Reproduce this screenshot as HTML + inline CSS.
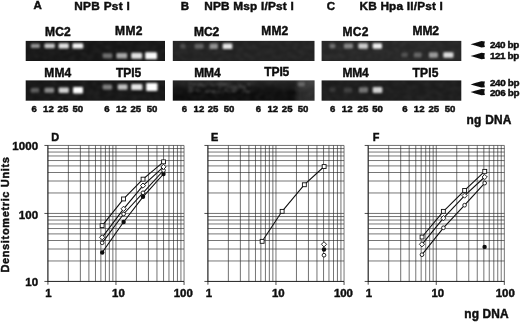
<!DOCTYPE html>
<html><head><meta charset="utf-8"><title>Figure</title>
<style>html,body{margin:0;padding:0;background:#fff;}body{width:520px;height:322px;overflow:hidden;}svg{display:block;}text{font-family:"Liberation Sans",sans-serif;font-weight:bold;fill:#0d0d0d;stroke:#0d0d0d;stroke-width:0.45px;}</style>
</head><body>
<svg width="520" height="322" viewBox="0 0 520 322">
<defs>
<filter id="b1" x="-50%" y="-100%" width="200%" height="300%"><feGaussianBlur stdDeviation="0.9 0.8"/></filter>
<filter id="b2" x="-50%" y="-100%" width="200%" height="300%"><feGaussianBlur stdDeviation="2.5 1.5"/></filter>
<filter id="soft2" x="-2%" y="-2%" width="104%" height="104%"><feGaussianBlur stdDeviation="0.25"/></filter>
<filter id="soft" x="-2%" y="-2%" width="104%" height="104%"><feGaussianBlur stdDeviation="0.4"/></filter>
<filter id="noise" x="-5%" y="-20%" width="110%" height="140%"><feTurbulence type="fractalNoise" baseFrequency="0.16 0.22" numOctaves="2" seed="7"/><feColorMatrix type="matrix" values="0 0 0 0 1 0 0 0 0 1 0 0 0 0 1 2.2 0 0 0 -0.8"/><feComposite in2="SourceGraphic" operator="in"/><feGaussianBlur stdDeviation="1.1"/></filter>
<linearGradient id="gtop" x1="0" y1="0" x2="0" y2="1"><stop offset="0" stop-color="#fff" stop-opacity="0.10"/><stop offset="0.3" stop-color="#fff" stop-opacity="0.05"/><stop offset="0.6" stop-color="#fff" stop-opacity="0"/></linearGradient>
<linearGradient id="gright" x1="0" y1="0" x2="1" y2="0"><stop offset="0" stop-color="#fff" stop-opacity="0"/><stop offset="0.3" stop-color="#fff" stop-opacity="0.12"/><stop offset="1" stop-color="#fff" stop-opacity="0.13"/></linearGradient>
</defs>
<rect x="0" y="0" width="520" height="322" fill="#fff"/>
<g filter="url(#soft)">
<text x="33.6" y="8.7" font-size="11.5">A</text>
<text x="74.2" y="9.6" font-size="11.8" textLength="55.6" lengthAdjust="spacing">NPB Pst I</text>
<text x="180.8" y="10.0" font-size="11.5">B</text>
<text x="204.2" y="9.6" font-size="11.8" textLength="89.5" lengthAdjust="spacing">NPB Msp I/Pst I</text>
<text x="326.8" y="10.0" font-size="11.5">C</text>
<text x="359.5" y="9.6" font-size="11.8" textLength="83.3" lengthAdjust="spacing">KB Hpa II/Pst I</text>
</g>
<g filter="url(#soft)">
<rect x="25.7" y="40.9" width="139.3" height="20.1" fill="#191919"/>
<rect x="25.7" y="80.4" width="139.3" height="20.3" fill="#181818"/>
<rect x="172.8" y="40.9" width="141.7" height="20.1" fill="#202020"/>
<rect x="172.8" y="80.4" width="141.7" height="20.3" fill="#0c0c0c"/>
<rect x="321.6" y="40.9" width="139.7" height="20.1" fill="#252525"/>
<rect x="321.6" y="80.4" width="139.7" height="20.3" fill="#1f1f1f"/>
</g>
<rect x="172.8" y="80.4" width="141.7" height="20.3" fill="url(#gtop)"/>
<rect x="294" y="80.4" width="20.5" height="20.3" fill="url(#gright)"/>
<rect x="188" y="83" width="62" height="10" fill="#fff" opacity="0.2" filter="url(#noise)"/>
<rect x="25.7" y="40.9" width="139.3" height="20.1" fill="#fff" opacity="0.05" filter="url(#noise)"/>
<rect x="25.7" y="80.4" width="139.3" height="20.3" fill="#fff" opacity="0.05" filter="url(#noise)"/>
<rect x="172.8" y="40.9" width="141.7" height="20.1" fill="#fff" opacity="0.05" filter="url(#noise)"/>
<rect x="172.8" y="80.4" width="141.7" height="20.3" fill="#fff" opacity="0.05" filter="url(#noise)"/>
<rect x="321.6" y="40.9" width="139.7" height="20.1" fill="#fff" opacity="0.05" filter="url(#noise)"/>
<rect x="321.6" y="80.4" width="139.7" height="20.3" fill="#fff" opacity="0.05" filter="url(#noise)"/>
<rect x="30.9" y="43.7" width="8.9" height="4.4" rx="1.2" fill="#fff" opacity="0.53" filter="url(#b1)"/>
<rect x="44.5" y="43.4" width="10.3" height="4.9" rx="1.2" fill="#fff" opacity="0.76" filter="url(#b1)"/>
<rect x="58.6" y="43.3" width="10.2" height="5.1" rx="1.2" fill="#fff" opacity="0.87" filter="url(#b1)"/>
<rect x="72.5" y="43.2" width="10.7" height="5.4" rx="1.2" fill="#fff" opacity="0.96" filter="url(#b1)"/>
<rect x="102.7" y="53.3" width="9.6" height="4.9" rx="1.2" fill="#fff" opacity="0.36" filter="url(#b1)"/>
<rect x="116.4" y="53.1" width="10.8" height="5.4" rx="1.2" fill="#fff" opacity="0.62" filter="url(#b1)"/>
<rect x="131.2" y="52.8" width="11.0" height="5.9" rx="1.2" fill="#fff" opacity="0.87" filter="url(#b1)"/>
<rect x="145.2" y="52.3" width="11.8" height="7.0" rx="1.2" fill="#fff" opacity="0.98" filter="url(#b1)"/>
<rect x="30.7" y="87.9" width="8.5" height="4.6" rx="1.2" fill="#fff" opacity="0.29" filter="url(#b1)"/>
<rect x="44.5" y="87.7" width="9.6" height="5.1" rx="1.2" fill="#fff" opacity="0.49" filter="url(#b1)"/>
<rect x="58.7" y="87.4" width="10.1" height="5.6" rx="1.2" fill="#fff" opacity="0.80" filter="url(#b1)"/>
<rect x="73.0" y="87.0" width="10.0" height="6.4" rx="1.2" fill="#fff" opacity="1.00" filter="url(#b1)"/>
<rect x="102.7" y="84.5" width="9.3" height="4.9" rx="1.2" fill="#fff" opacity="0.44" filter="url(#b1)"/>
<rect x="117.7" y="84.3" width="9.8" height="5.4" rx="1.2" fill="#fff" opacity="0.73" filter="url(#b1)"/>
<rect x="131.2" y="83.9" width="11.2" height="6.2" rx="1.2" fill="#fff" opacity="0.89" filter="url(#b1)"/>
<rect x="146.2" y="83.0" width="11.3" height="7.9" rx="1.2" fill="#fff" opacity="1.00" filter="url(#b1)"/>
<rect x="180.2" y="44.0" width="5.2" height="4.4" rx="1.2" fill="#fff" opacity="0.18" filter="url(#b1)"/>
<rect x="194.6" y="43.8" width="8.9" height="4.9" rx="1.2" fill="#fff" opacity="0.29" filter="url(#b1)"/>
<rect x="209.6" y="43.5" width="8.3" height="5.4" rx="1.2" fill="#fff" opacity="0.49" filter="url(#b1)"/>
<rect x="222.7" y="43.4" width="9.6" height="5.7" rx="1.2" fill="#fff" opacity="0.89" filter="url(#b1)"/>
<rect x="297.7" y="82.3" width="7.1" height="3.9" rx="1.2" fill="#fff" opacity="0.24" filter="url(#b1)"/>
<rect x="329.6" y="43.8" width="5.7" height="4.4" rx="1.2" fill="#fff" opacity="0.33" filter="url(#b1)"/>
<rect x="343.9" y="43.5" width="9.0" height="4.9" rx="1.2" fill="#fff" opacity="0.44" filter="url(#b1)"/>
<rect x="358.3" y="43.3" width="9.6" height="5.4" rx="1.2" fill="#fff" opacity="0.76" filter="url(#b1)"/>
<rect x="372.7" y="43.3" width="9.3" height="5.4" rx="1.2" fill="#fff" opacity="0.93" filter="url(#b1)"/>
<rect x="401.4" y="52.8" width="6.3" height="4.4" rx="1.2" fill="#fff" opacity="0.20" filter="url(#b1)"/>
<rect x="413.9" y="52.5" width="7.7" height="4.9" rx="1.2" fill="#fff" opacity="0.29" filter="url(#b1)"/>
<rect x="428.9" y="52.3" width="9.0" height="5.4" rx="1.2" fill="#fff" opacity="0.53" filter="url(#b1)"/>
<rect x="443.3" y="52.2" width="10.2" height="5.6" rx="1.2" fill="#fff" opacity="0.84" filter="url(#b1)"/>
<rect x="329.6" y="87.8" width="5.7" height="4.4" rx="1.2" fill="#fff" opacity="0.10" filter="url(#b1)"/>
<rect x="343.9" y="87.8" width="8.3" height="4.4" rx="1.2" fill="#fff" opacity="0.14" filter="url(#b1)"/>
<rect x="358.9" y="87.3" width="9.0" height="5.4" rx="1.2" fill="#fff" opacity="0.38" filter="url(#b1)"/>
<rect x="372.7" y="87.0" width="9.6" height="5.9" rx="1.2" fill="#fff" opacity="0.80" filter="url(#b1)"/>
<g filter="url(#soft)">
<text x="45.1" y="36.0" font-size="12" textLength="25.5" lengthAdjust="spacing">MC2</text>
<text x="115.1" y="34.7" font-size="12" textLength="27.4" lengthAdjust="spacing">MM2</text>
<text x="44.2" y="76.6" font-size="12" textLength="27.1" lengthAdjust="spacing">MM4</text>
<text x="115.9" y="76.6" font-size="12" textLength="25.3" lengthAdjust="spacing">TPI5</text>
<text x="194.1" y="36.0" font-size="12" textLength="25.0" lengthAdjust="spacing">MC2</text>
<text x="261.2" y="34.9" font-size="12" textLength="27.1" lengthAdjust="spacing">MM2</text>
<text x="194.2" y="76.7" font-size="12" textLength="26.5" lengthAdjust="spacing">MM4</text>
<text x="264.3" y="76.2" font-size="12" textLength="25.0" lengthAdjust="spacing">TPI5</text>
<text x="342.5" y="36.0" font-size="12" textLength="25.9" lengthAdjust="spacing">MC2</text>
<text x="412.5" y="34.7" font-size="12" textLength="26.5" lengthAdjust="spacing">MM2</text>
<text x="342.5" y="77.0" font-size="12" textLength="26.2" lengthAdjust="spacing">MM4</text>
<text x="412.6" y="76.6" font-size="12" textLength="25.8" lengthAdjust="spacing">TPI5</text>
<text x="34.2" y="112.2" font-size="9.6" text-anchor="middle">6</text>
<text x="48.4" y="112.2" font-size="9.6" text-anchor="middle">12</text>
<text x="62.9" y="112.2" font-size="9.6" text-anchor="middle">25</text>
<text x="77.8" y="112.2" font-size="9.6" text-anchor="middle">50</text>
<text x="106.9" y="112.2" font-size="9.6" text-anchor="middle">6</text>
<text x="121.3" y="112.2" font-size="9.6" text-anchor="middle">12</text>
<text x="135.8" y="112.2" font-size="9.6" text-anchor="middle">25</text>
<text x="152.0" y="112.2" font-size="9.6" text-anchor="middle">50</text>
<text x="184.4" y="112.2" font-size="9.6" text-anchor="middle">6</text>
<text x="198.9" y="112.2" font-size="9.6" text-anchor="middle">12</text>
<text x="213.1" y="112.2" font-size="9.6" text-anchor="middle">25</text>
<text x="229.0" y="112.2" font-size="9.6" text-anchor="middle">50</text>
<text x="258.4" y="112.2" font-size="9.6" text-anchor="middle">6</text>
<text x="272.8" y="112.2" font-size="9.6" text-anchor="middle">12</text>
<text x="287.2" y="112.2" font-size="9.6" text-anchor="middle">25</text>
<text x="303.1" y="112.2" font-size="9.6" text-anchor="middle">50</text>
<text x="332.7" y="112.2" font-size="9.6" text-anchor="middle">6</text>
<text x="347.2" y="112.2" font-size="9.6" text-anchor="middle">12</text>
<text x="362.9" y="112.2" font-size="9.6" text-anchor="middle">25</text>
<text x="377.5" y="112.2" font-size="9.6" text-anchor="middle">50</text>
<text x="404.8" y="112.2" font-size="9.6" text-anchor="middle">6</text>
<text x="419.2" y="112.2" font-size="9.6" text-anchor="middle">12</text>
<text x="433.8" y="112.2" font-size="9.6" text-anchor="middle">25</text>
<text x="450.0" y="112.2" font-size="9.6" text-anchor="middle">50</text>
<polygon points="470.6,44.3 475,43.0 481.5,41.1 484.9,41.5 484.3,44.3 484.9,47.1 481.5,47.5 475,45.6" fill="#0d0d0d"/>
<polygon points="470.6,56 475,54.7 481.5,52.8 484.9,53.2 484.3,56 484.9,58.8 481.5,59.2 475,57.3" fill="#0d0d0d"/>
<polygon points="470.6,84.4 475,83.1 481.5,81.2 484.9,81.6 484.3,84.4 484.9,87.2 481.5,87.6 475,85.7" fill="#0d0d0d"/>
<polygon points="470.6,92.1 475,90.8 481.5,88.9 484.9,89.3 484.3,92.1 484.9,94.9 481.5,95.3 475,93.4" fill="#0d0d0d"/>
<text x="489.9" y="47.6" font-size="9.9" textLength="29.4" lengthAdjust="spacing">240 bp</text>
<text x="489.9" y="59.1" font-size="9.9" textLength="29.4" lengthAdjust="spacing">121 bp</text>
<text x="489.9" y="86.1" font-size="9.9" textLength="29.6" lengthAdjust="spacing">240 bp</text>
<text x="489.9" y="95.8" font-size="9.9" textLength="29.6" lengthAdjust="spacing">206 bp</text>
<text x="466.6" y="124.2" font-size="11.9" textLength="44.8" lengthAdjust="spacing">ng DNA</text>
</g>
<g filter="url(#soft)">
<path d="M47.90 145.45V281.45M47.90 281.45H184.04M68.39 145.45V281.45M47.90 260.98H184.04M80.38 145.45V281.45M47.90 249.01H184.04M88.88 145.45V281.45M47.90 240.51H184.04M95.48 145.45V281.45M47.90 233.92H184.04M100.87 145.45V281.45M47.90 228.54H184.04M105.43 145.45V281.45M47.90 223.98H184.04M109.37 145.45V281.45M47.90 220.04H184.04M112.86 145.45V281.45M47.90 216.56H184.04M115.97 145.45V281.45M47.90 213.45H184.04M136.46 145.45V281.45M47.90 192.98H184.04M148.45 145.45V281.45M47.90 181.01H184.04M156.95 145.45V281.45M47.90 172.51H184.04M163.55 145.45V281.45M47.90 165.92H184.04M168.94 145.45V281.45M47.90 160.54H184.04M173.50 145.45V281.45M47.90 155.98H184.04M177.44 145.45V281.45M47.90 152.04H184.04M180.93 145.45V281.45M47.90 148.56H184.04M184.04 145.45V281.45M47.90 145.45H184.04" stroke="#2a2a2a" stroke-width="0.65" fill="none"/>
<path d="M47.90 145.45V284.65M44.40 281.45H184.04M115.97 281.45v3.5M44.40 213.45h3.5M184.04 281.45v3.5M44.40 145.45h3.5" stroke="#111" stroke-width="0.75" fill="none"/>
<text x="48.3" y="297.1" font-size="11.4" text-anchor="middle">1</text>
<text x="118.4" y="297.1" font-size="11.4" text-anchor="middle">10</text>
<text x="183.3" y="297.1" font-size="11.4" text-anchor="middle">100</text>
<path d="M207.90 145.45V281.45M207.90 281.45H344.04M228.39 145.45V281.45M207.90 260.98H344.04M240.38 145.45V281.45M207.90 249.01H344.04M248.88 145.45V281.45M207.90 240.51H344.04M255.48 145.45V281.45M207.90 233.92H344.04M260.87 145.45V281.45M207.90 228.54H344.04M265.43 145.45V281.45M207.90 223.98H344.04M269.37 145.45V281.45M207.90 220.04H344.04M272.86 145.45V281.45M207.90 216.56H344.04M275.97 145.45V281.45M207.90 213.45H344.04M296.46 145.45V281.45M207.90 192.98H344.04M308.45 145.45V281.45M207.90 181.01H344.04M316.95 145.45V281.45M207.90 172.51H344.04M323.55 145.45V281.45M207.90 165.92H344.04M328.94 145.45V281.45M207.90 160.54H344.04M333.50 145.45V281.45M207.90 155.98H344.04M337.44 145.45V281.45M207.90 152.04H344.04M340.93 145.45V281.45M207.90 148.56H344.04M344.04 145.45V281.45M207.90 145.45H344.04" stroke="#2a2a2a" stroke-width="0.65" fill="none"/>
<path d="M207.90 145.45V284.65M204.40 281.45H344.04M275.97 281.45v3.5M204.40 213.45h3.5M344.04 281.45v3.5M204.40 145.45h3.5" stroke="#111" stroke-width="0.75" fill="none"/>
<text x="208.8" y="297.1" font-size="11.4" text-anchor="middle">1</text>
<text x="278.3" y="297.1" font-size="11.4" text-anchor="middle">10</text>
<text x="343.4" y="297.1" font-size="11.4" text-anchor="middle">100</text>
<path d="M368.20 145.45V281.45M368.20 281.45H504.34M388.69 145.45V281.45M368.20 260.98H504.34M400.68 145.45V281.45M368.20 249.01H504.34M409.18 145.45V281.45M368.20 240.51H504.34M415.78 145.45V281.45M368.20 233.92H504.34M421.17 145.45V281.45M368.20 228.54H504.34M425.73 145.45V281.45M368.20 223.98H504.34M429.67 145.45V281.45M368.20 220.04H504.34M433.16 145.45V281.45M368.20 216.56H504.34M436.27 145.45V281.45M368.20 213.45H504.34M456.76 145.45V281.45M368.20 192.98H504.34M468.75 145.45V281.45M368.20 181.01H504.34M477.25 145.45V281.45M368.20 172.51H504.34M483.85 145.45V281.45M368.20 165.92H504.34M489.24 145.45V281.45M368.20 160.54H504.34M493.80 145.45V281.45M368.20 155.98H504.34M497.74 145.45V281.45M368.20 152.04H504.34M501.23 145.45V281.45M368.20 148.56H504.34M504.34 145.45V281.45M368.20 145.45H504.34" stroke="#2a2a2a" stroke-width="0.65" fill="none"/>
<path d="M368.20 145.45V284.65M364.70 281.45H504.34M436.27 281.45v3.5M364.70 213.45h3.5M504.34 281.45v3.5M364.70 145.45h3.5" stroke="#111" stroke-width="0.75" fill="none"/>
<text x="369.0" y="297.1" font-size="11.4" text-anchor="middle">1</text>
<text x="437.8" y="297.1" font-size="11.4" text-anchor="middle">10</text>
<text x="505.3" y="297.1" font-size="11.4" text-anchor="middle">100</text>
<text x="38.2" y="150.0" font-size="11.5" text-anchor="end" letter-spacing="0.1">1000</text>
<text x="38.2" y="218.6" font-size="11.5" text-anchor="end" letter-spacing="0.1">100</text>
<text x="38.2" y="285.6" font-size="11.5" text-anchor="end" letter-spacing="0.1">10</text>
<text transform="translate(9.1,272.6) rotate(-90)" font-size="11" textLength="115.5" lengthAdjust="spacing">Densitometric Units</text>
<text x="51.3" y="140.6" font-size="10.9">D</text>
<text x="211.0" y="140.6" font-size="10.9">E</text>
<text x="372.8" y="140.6" font-size="10.9">F</text>
<text x="464.2" y="318.4" font-size="11.9" textLength="44.5" lengthAdjust="spacing">ng DNA</text>
</g>
<g filter="url(#soft2)">
<polyline points="102.2,252.5 123.6,222.0 143.0,196.8 163.5,174.0" fill="none" stroke="#111" stroke-width="1.1"/>
<circle cx="102.2" cy="252.5" r="2.2" fill="#111"/>
<circle cx="123.6" cy="222.0" r="2.2" fill="#111"/>
<circle cx="143.0" cy="196.8" r="2.2" fill="#111"/>
<circle cx="163.5" cy="174.0" r="2.2" fill="#111"/>
<polyline points="102.2,242.8 123.6,214.0 143.0,192.8 163.5,170.5" fill="none" stroke="#111" stroke-width="1.1"/>
<circle cx="102.2" cy="242.8" r="1.85" fill="#fff" stroke="#111" stroke-width="0.9"/>
<circle cx="123.6" cy="214.0" r="1.85" fill="#fff" stroke="#111" stroke-width="0.9"/>
<circle cx="143.0" cy="192.8" r="1.85" fill="#fff" stroke="#111" stroke-width="0.9"/>
<circle cx="163.5" cy="170.5" r="1.85" fill="#fff" stroke="#111" stroke-width="0.9"/>
<polyline points="102.2,237.3 123.6,208.8 143.0,185.6 163.5,166.9" fill="none" stroke="#111" stroke-width="1.1"/>
<polygon points="102.2,234.7 104.8,237.3 102.2,239.9 99.6,237.3" fill="#fff" stroke="#111" stroke-width="0.9"/>
<polygon points="123.6,206.2 126.2,208.8 123.6,211.4 121.0,208.8" fill="#fff" stroke="#111" stroke-width="0.9"/>
<polygon points="143.0,183.0 145.6,185.6 143.0,188.2 140.4,185.6" fill="#fff" stroke="#111" stroke-width="0.9"/>
<polygon points="163.5,164.3 166.1,166.9 163.5,169.5 160.9,166.9" fill="#fff" stroke="#111" stroke-width="0.9"/>
<polyline points="102.2,225.6 123.6,198.9 143.0,179.2 163.5,161.8" fill="none" stroke="#111" stroke-width="1.1"/>
<rect x="100.2" y="223.7" width="3.9" height="3.9" fill="#fff" stroke="#111" stroke-width="0.9"/>
<rect x="121.6" y="197.0" width="3.9" height="3.9" fill="#fff" stroke="#111" stroke-width="0.9"/>
<rect x="141.1" y="177.2" width="3.9" height="3.9" fill="#fff" stroke="#111" stroke-width="0.9"/>
<rect x="161.6" y="159.9" width="3.9" height="3.9" fill="#fff" stroke="#111" stroke-width="0.9"/>
<polyline points="262.2,241.3 282.1,211.3 304.4,184.7 324.2,166.5" fill="none" stroke="#111" stroke-width="1.1"/>
<rect x="260.2" y="239.4" width="3.9" height="3.9" fill="#fff" stroke="#111" stroke-width="0.9"/>
<rect x="280.2" y="209.4" width="3.9" height="3.9" fill="#fff" stroke="#111" stroke-width="0.9"/>
<rect x="302.4" y="182.8" width="3.9" height="3.9" fill="#fff" stroke="#111" stroke-width="0.9"/>
<rect x="322.2" y="164.6" width="3.9" height="3.9" fill="#fff" stroke="#111" stroke-width="0.9"/>
<polygon points="324.0,241.7 326.6,244.3 324.0,246.9 321.4,244.3" fill="#fff" stroke="#111" stroke-width="0.9"/>
<circle cx="324.0" cy="249.5" r="2.2" fill="#111"/>
<circle cx="324.0" cy="255.2" r="1.85" fill="#fff" stroke="#111" stroke-width="0.9"/>
<polyline points="422.0,254.7 443.4,227.8 464.6,205.2 484.7,183.1" fill="none" stroke="#111" stroke-width="1.1"/>
<circle cx="422.0" cy="254.7" r="1.85" fill="#fff" stroke="#111" stroke-width="0.9"/>
<circle cx="443.4" cy="227.8" r="1.85" fill="#fff" stroke="#111" stroke-width="0.9"/>
<circle cx="464.6" cy="205.2" r="1.85" fill="#fff" stroke="#111" stroke-width="0.9"/>
<circle cx="484.7" cy="183.1" r="1.85" fill="#fff" stroke="#111" stroke-width="0.9"/>
<polyline points="422.0,244.3 443.4,218.2 464.6,195.6 484.7,177.0" fill="none" stroke="#111" stroke-width="1.1"/>
<polygon points="422.0,241.7 424.6,244.3 422.0,246.9 419.4,244.3" fill="#fff" stroke="#111" stroke-width="0.9"/>
<polygon points="443.4,215.6 446.0,218.2 443.4,220.8 440.8,218.2" fill="#fff" stroke="#111" stroke-width="0.9"/>
<polygon points="464.6,193.0 467.2,195.6 464.6,198.2 462.0,195.6" fill="#fff" stroke="#111" stroke-width="0.9"/>
<polygon points="484.7,174.4 487.3,177.0 484.7,179.6 482.1,177.0" fill="#fff" stroke="#111" stroke-width="0.9"/>
<polyline points="422.0,237.0 443.4,211.3 464.6,190.4 484.7,171.3" fill="none" stroke="#111" stroke-width="1.1"/>
<rect x="420.1" y="235.1" width="3.9" height="3.9" fill="#fff" stroke="#111" stroke-width="0.9"/>
<rect x="441.4" y="209.4" width="3.9" height="3.9" fill="#fff" stroke="#111" stroke-width="0.9"/>
<rect x="462.7" y="188.5" width="3.9" height="3.9" fill="#fff" stroke="#111" stroke-width="0.9"/>
<rect x="482.8" y="169.4" width="3.9" height="3.9" fill="#fff" stroke="#111" stroke-width="0.9"/>
<circle cx="484.6" cy="246.9" r="2.2" fill="#111"/>
</g>
</svg></body></html>
